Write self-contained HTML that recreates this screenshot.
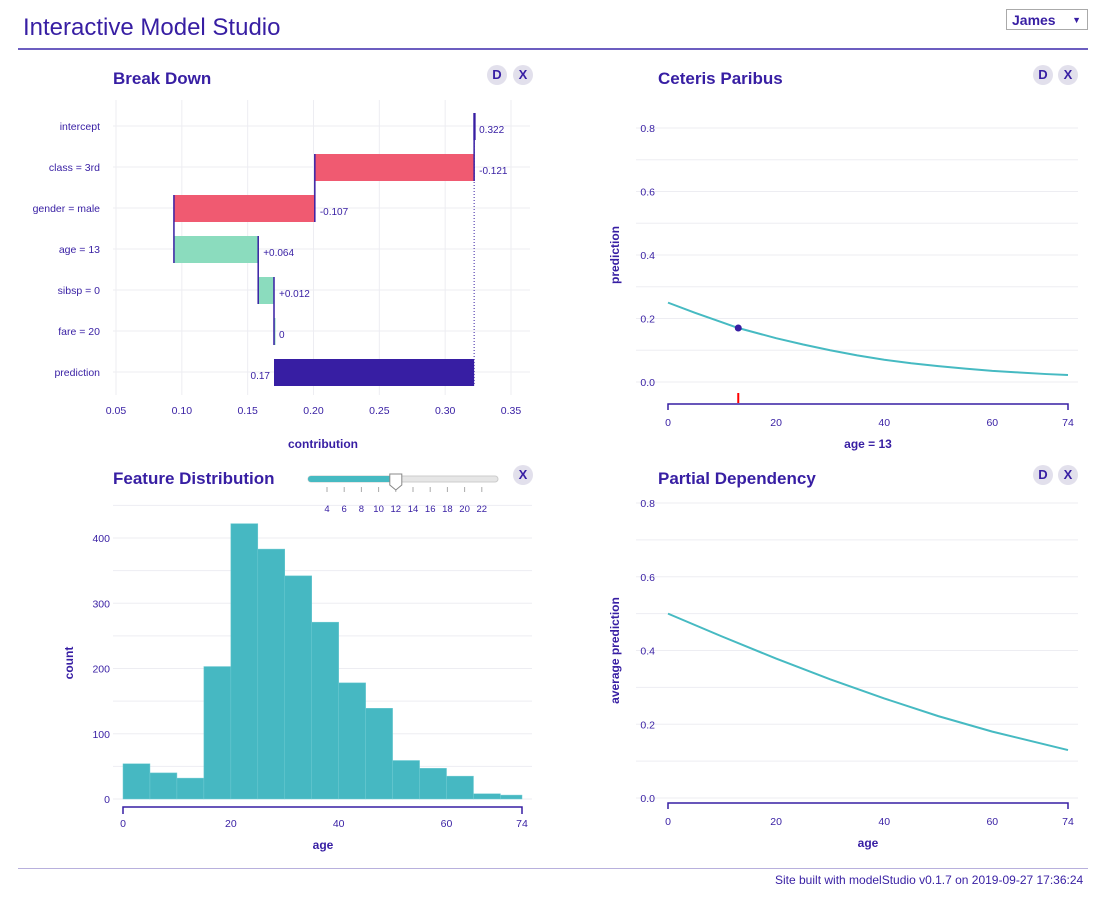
<!DOCTYPE html>
<html><head><meta charset="utf-8"><style>
body{margin:0;background:#fff;font-family:"Liberation Sans",sans-serif;color:#371ea3;width:1106px;height:897px;overflow:hidden;position:relative}
.abs{position:absolute}
svg text{font-family:"Liberation Sans",sans-serif;fill:#371ea3}
.btn{position:absolute;width:20px;height:20px;border-radius:50%;background:#e2e0ec;font-size:13px;font-weight:bold;text-align:center;line-height:20px;color:#371ea3}
</style></head><body>
<div class="abs" style="left:23px;top:14px;font-size:24px;">Interactive Model Studio</div>
<div class="abs" style="left:1006px;top:9px;height:20px;border:1px solid #aaa;font-size:14px;font-weight:bold;line-height:20px;padding-left:5px;box-sizing:border-box;width:82px;height:21px">James<span style="position:absolute;right:6px;font-size:9px">▼</span></div>
<div class="abs" style="left:18px;top:48px;width:1070px;height:2px;background:#6c5ec0"></div>
<div class="abs" style="left:18px;top:868px;width:1070px;height:1px;background:#b8b0dd"></div>
<div class="abs" style="left:775px;top:873px;font-size:12px;color:#371ea3">Site built with modelStudio v0.1.7 on 2019-09-27 17:36:24</div>

<div class="btn" style="left:487px;top:65px">D</div>
<div class="btn" style="left:513px;top:65px">X</div>
<div class="btn" style="left:1033px;top:65px">D</div>
<div class="btn" style="left:1058px;top:65px">X</div>
<div class="btn" style="left:513px;top:465px">X</div>
<div class="btn" style="left:1033px;top:465px">D</div>
<div class="btn" style="left:1058px;top:465px">X</div>

<svg id="s" width="1106" height="897" style="position:absolute;left:0;top:0">
<text x="113" y="84" font-size="17" font-weight="bold">Break Down</text>
<text x="658" y="84" font-size="17" font-weight="bold">Ceteris Paribus</text>
<text x="113" y="484" font-size="17" font-weight="bold">Feature Distribution</text>
<text x="658" y="484" font-size="17" font-weight="bold">Partial Dependency</text>
<g id="bd"></g><g id="cp"></g><g id="fd"></g><g id="pd"></g><g id="sl"></g>
</svg>
<script>
const NS="http://www.w3.org/2000/svg";
function mk(p,t,a,txt){const e=document.createElementNS(NS,t);for(const k in a)e.setAttribute(k,a[k]);if(txt!==undefined)e.textContent=txt;p.appendChild(e);return e;}
// Break down data
const bdLabels=["intercept","class = 3rd","gender = male","age = 13","sibsp = 0","fare = 20","prediction"];
const bdValues=[0.322,-0.121,-0.107,0.064,0.012,0,0.17];
const bdText=["0.322","-0.121","-0.107","+0.064","+0.012","0","0.17"];
const bdTicks=[0.05,0.10,0.15,0.20,0.25,0.30,0.35];
// Histogram
const histBins=[0,5,10,15,20,25,30,35,40,45,50,55,60,65,70];
const histCounts=[54,40,32,203,422,383,342,271,178,139,59,47,35,8,6];
const histYTicks=[0,100,200,300,400];
const ageTicks=[0,20,40,60,74];
// Ceteris paribus
const cpAge=[0,5,10,13,20,25,30,35,40,45,50,55,60,65,70,74];
const cpPred=[0.25,0.218,0.188,0.17,0.138,0.118,0.1,0.084,0.07,0.059,0.05,0.042,0.035,0.03,0.025,0.022];
const obsAge=13, obsPred=0.17;
const cpYTicks=[0,0.2,0.4,0.6,0.8];
// Partial dependency
const pdAge=[0,10,20,30,40,50,60,74];
const pdPred=[0.5,0.438,0.378,0.322,0.27,0.222,0.18,0.13];
const sliderTicks=[4,6,8,10,12,14,16,18,20,22];

const grid="#ededf2";
// ---- Break down
(function(){
const g=document.getElementById('bd');
const x=v=>116+(v-0.05)/0.3*395;
const rowY=i=>126+i*41;
bdTicks.forEach(t=>{const l=mk(g,'line',{x1:x(t),x2:x(t),y1:100,y2:395,stroke:grid});
const tx=mk(g,'text',{x:x(t),y:414,'font-size':10.5,'text-anchor':'middle'},t.toFixed(2));});
let cum=bdValues[0];
bdLabels.forEach((lab,i)=>{
 const y=rowY(i);
 mk(g,'line',{x1:113,x2:530,y1:y,y2:y,stroke:grid});
 const t=mk(g,'text',{x:100,y:y+4,'font-size':10.5,'text-anchor':'end'},lab);
 let a,b,col;
 if(i==0){a=b=bdValues[0];col='#371ea3';}
 else if(i==bdLabels.length-1){a=bdValues[i];b=bdValues[0];col='#371ea3';}
 else{a=cum;b=cum+bdValues[i];col=bdValues[i]<0?'#f05a71':'#8bdcbe';cum=b;}
 const lo=Math.min(a,b),hi=Math.max(a,b);
 const r=mk(g,'rect',{x:x(lo),y:y-13,width:Math.max(x(hi)-x(lo),1.5),height:27,fill:col});
 
 if(i>0&&i<bdLabels.length-1){mk(g,'line',{x1:x(a),x2:x(a),y1:y-41-13,y2:y+14,stroke:'#371ea3','stroke-width':1.5});}
 const lx=i==bdLabels.length-1?x(lo)-4:x(Math.max(a,b))+5;
 const vt=mk(g,'text',{x:lx,y:y+7,'font-size':10,'text-anchor':i==bdLabels.length-1?'end':'start'},bdText[i]);
 
});
mk(g,'line',{x1:x(bdValues[0]),x2:x(bdValues[0]),y1:113,y2:140,stroke:'#371ea3','stroke-width':1.5});
mk(g,'line',{x1:x(bdValues[0]),x2:x(bdValues[0]),y1:140,y2:386,stroke:'#371ea3','stroke-dasharray':'1,2'});
const at=mk(g,'text',{x:323,y:448,'font-size':12,'font-weight':'bold','text-anchor':'middle'},'contribution');
})();
// ---- line chart helper
function lineChart(id,y0,y8,axisY,ages,vals,yt,prefix,ylab,xlab){
 const g=document.getElementById(id);
 const x=a=>668+a/74*400;
 const y=v=>y0-(v)/0.8*(y0-y8);
 for(let v=0;v<=0.8001;v+=0.1){mk(g,'line',{x1:668-32,x2:1078,y1:y(v),y2:y(v),stroke:grid});}
 yt.forEach(t=>{const e=mk(g,'text',{x:655,y:y(t)+4,'font-size':10.5,'text-anchor':'end'},t.toFixed(1));});
 mk(g,'path',{d:`M${x(0)},${axisY+6}V${axisY}H${x(74)}V${axisY+6}`,stroke:'#371ea3',fill:'none','stroke-width':1.5});
 ageTicks.forEach(t=>{const e=mk(g,'text',{x:x(t),y:axisY+22,'font-size':10.5,'text-anchor':'middle'},t);});
 const p=mk(g,'path',{d:ages.map((a,i)=>(i?'L':'M')+x(a)+','+y(vals[i])).join(''),fill:'none',stroke:'#46bac2','stroke-width':2});
 
 const xl=mk(g,'text',{x:868,y:axisY+44,'font-size':12,'font-weight':'bold','text-anchor':'middle'},xlab);
 const cy=(y(0)+y(0.8))/2;
 const yl=mk(g,'text',{x:619,y:cy,'font-size':12,'font-weight':'bold','text-anchor':'middle',transform:`rotate(-90 619 ${cy})`},ylab);
 return {g,x,y};
}
const cp=lineChart('cp',382,128,404,cpAge,cpPred,cpYTicks,'cp','prediction','age = 13');
const dot=mk(cp.g,'circle',{cx:cp.x(obsAge),cy:cp.y(obsPred),r:3.5,fill:'#371ea3'});

const rug=mk(cp.g,'line',{x1:cp.x(obsAge),x2:cp.x(obsAge),y1:393,y2:403,stroke:'red','stroke-width':2});

lineChart('pd',798,503,803,pdAge,pdPred,cpYTicks,'pd','average prediction','age');
// ---- histogram
(function(){
const g=document.getElementById('fd');
const x=a=>123+a/74*399;
const y=v=>799-v*0.6525;
for(let v=0;v<=450;v+=50)mk(g,'line',{x1:113,x2:532,y1:y(v),y2:y(v),stroke:grid});
histYTicks.forEach(t=>{const e=mk(g,'text',{x:110,y:y(t)+4,'font-size':10.5,'text-anchor':'end'},t);});
histBins.forEach((b,i)=>{const e=Math.min(b+5,74);const r=mk(g,'rect',{x:x(b),y:y(histCounts[i]),width:x(e)-x(b),height:y(0)-y(histCounts[i]),fill:'#46b8c2',stroke:'#6fcbd2','stroke-width':0.5});
});
mk(g,'path',{d:`M${x(0)},${814}V${807}H${x(74)}V${814}`,stroke:'#371ea3',fill:'none','stroke-width':1.5});
ageTicks.forEach(t=>{const e=mk(g,'text',{x:x(t),y:827,'font-size':10.5,'text-anchor':'middle'},t);});
const xl=mk(g,'text',{x:323,y:849,'font-size':12,'font-weight':'bold','text-anchor':'middle'},'age');
const yl=mk(g,'text',{x:73,y:663,'font-size':12,'font-weight':'bold','text-anchor':'middle',transform:'rotate(-90 73 663)'},'count');
})();
// ---- slider
(function(){
const g=document.getElementById('sl');
const x=v=>327+(v-4)*8.6;
mk(g,'rect',{x:308,y:476,width:190,height:6,rx:3,fill:'#e6e6e6',stroke:'#ccc'});
mk(g,'rect',{x:308,y:476,width:x(12)-308,height:6,rx:3,fill:'#46bac2'});
sliderTicks.forEach(t=>{mk(g,'line',{x1:x(t),x2:x(t),y1:487,y2:492,stroke:'#aaa'});
const e=mk(g,'text',{x:x(t),y:512,'font-size':9.5,'text-anchor':'middle'},t);});
const h=mk(g,'path',{d:`M${x(12)-6},474h12v11l-6,5l-6,-5z`,fill:'#fff',stroke:'#888'});

})();
</script>
</body></html>
